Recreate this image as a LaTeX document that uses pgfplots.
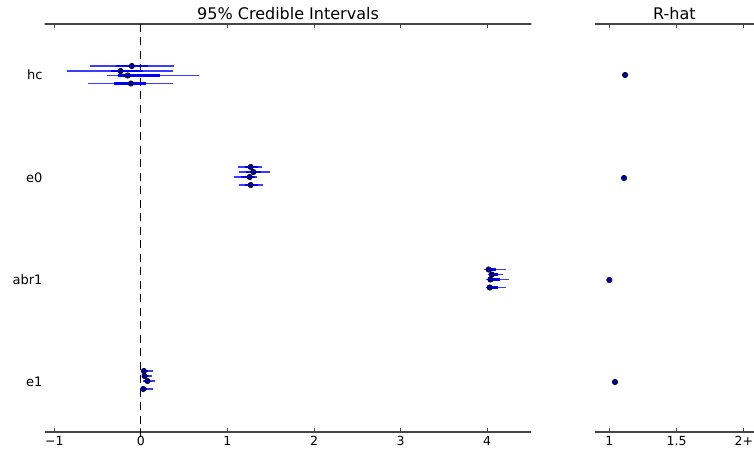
\documentclass[border=0pt]{standalone}
\usepackage{pgfplots}
\pgfplotsset{compat=1.18}
\usepackage{pgfplotstable}
\usepackage{fontspec}
\setmainfont{DejaVu Sans}

% Posterior summaries per chain: row position, median, 95% and 50% interval ends
\pgfplotstableread{
y     med     lo      hi     qlo     qhi
66    -0.104  -0.588  0.377  -0.288  0.077
71    -0.234  -0.857  0.372  -0.346  0.026
75.5  -0.153  -0.395  0.669  -0.261  0.219
83.5  -0.115  -0.614  0.366  -0.311  0.058
167   1.269   1.122   1.404  1.199   1.349
172   1.299   1.130   1.488  1.219   1.392
177   1.257   1.080   1.341  1.161   1.315
185   1.269   1.130   1.415  1.199   1.349
269.5 4.017   3.967   4.218  3.986   4.100
274.5 4.052   4.007   4.180  4.017   4.130
279.5 4.037   3.986   4.249  4.020   4.150
287.5 4.029   3.986   4.218  4.000   4.120
371   0.035   0.008   0.141  0.020   0.080
376   0.043   0.020   0.123  0.030   0.090
381   0.077   0.027   0.161  0.040   0.110
389   0.027   0.003   0.141  0.015   0.070
}\chains

% Gelman-Rubin statistic per parameter
\pgfplotstableread{
y    rhat
75   1.117
178  1.109
280  1.000
382  1.042
}\rhat

\definecolor{spine}{RGB}{70,70,70}
\definecolor{dotfill}{RGB}{0,0,170}
\definecolor{thinblue}{RGB}{60,60,255}

\tikzset{
  rowlabel/.style={anchor=east, inner sep=0pt, xshift=-2pt, font=\fontsize{13}{15}\selectfont},
}

\pgfplotsset{
  forest/.style={
    scale only axis,
    hide y axis,
    y dir=reverse,
    ymin=24, ymax=432,
    axis line style={draw=spine, line width=1.3pt},
    x axis line style={-},
    tick style={draw=spine, line width=0.9pt},
    major tick length=4pt,
    tick align=inside,
    xtick pos=both,
    xticklabel pos=lower,
    xticklabel style={font=\fontsize{12.5}{14}\selectfont, inner sep=0pt, yshift=-4pt},
    title style={font=\fontsize{16}{18}\selectfont, at={(0.5,1)}, anchor=base, yshift=-2pt},
    clip=false,
  },
}

\begin{document}
\begin{tikzpicture}
\useasboundingbox (0pt,0pt) rectangle (754pt,452pt);
\clip (0pt,0pt) rectangle (754pt,452pt);

% Credible intervals per chain
\begin{axis}[forest,
  at={(44.7pt,20pt)}, anchor=south west,
  width=486.7pt, height=408pt,
  xmin=-1.111, xmax=4.511,
  xtick={-1,0,1,2,3,4},
  xticklabels={−1,0,1,2,3,4},
  title={95\% Credible Intervals},
]
  \draw[black, line width=1.2pt, dash pattern=on 8pt off 5.5pt]
    (axis cs:0,24) -- (axis cs:0,440);
  % 95% intervals, drawn as horizontal segments from lo to hi
  \addplot[thinblue, line width=1.4pt, mark=none, forget plot, -,
    quiver={u=\thisrow{hi}-\thisrow{lo}, v=0}]
    table[x=lo, y=y] {\chains};
  % 50% intervals
  \addplot[blue, line width=2.8pt, mark=none, forget plot, -,
    quiver={u=\thisrow{qhi}-\thisrow{qlo}, v=0}]
    table[x=qlo, y=y] {\chains};
  % medians
  \addplot[only marks, mark=*, mark size=2.7pt,
    mark options={fill=dotfill, draw=black, line width=0.6pt}]
    table[x=med, y=y] {\chains};
  \node[rowlabel] at (axis cs:-1.111,75) {hc};
  \node[rowlabel] at (axis cs:-1.111,178) {e0};
  \node[rowlabel] at (axis cs:-1.111,280) {abr1};
  \node[rowlabel] at (axis cs:-1.111,382) {e1};
\end{axis}

% Convergence diagnostic
\begin{axis}[forest,
  at={(594.8pt,20pt)}, anchor=south west,
  width=159.2pt, height=408pt,
  xmin=0.892, xmax=2.075,
  xtick={1,1.5,2},
  xticklabels={1,1.5,2+},
  title={R-hat},
]
  \addplot[only marks, mark=*, mark size=2.7pt,
    mark options={fill=dotfill, draw=black, line width=0.6pt}]
    table[x=rhat, y=y] {\rhat};
\end{axis}
\end{tikzpicture}
\end{document}
